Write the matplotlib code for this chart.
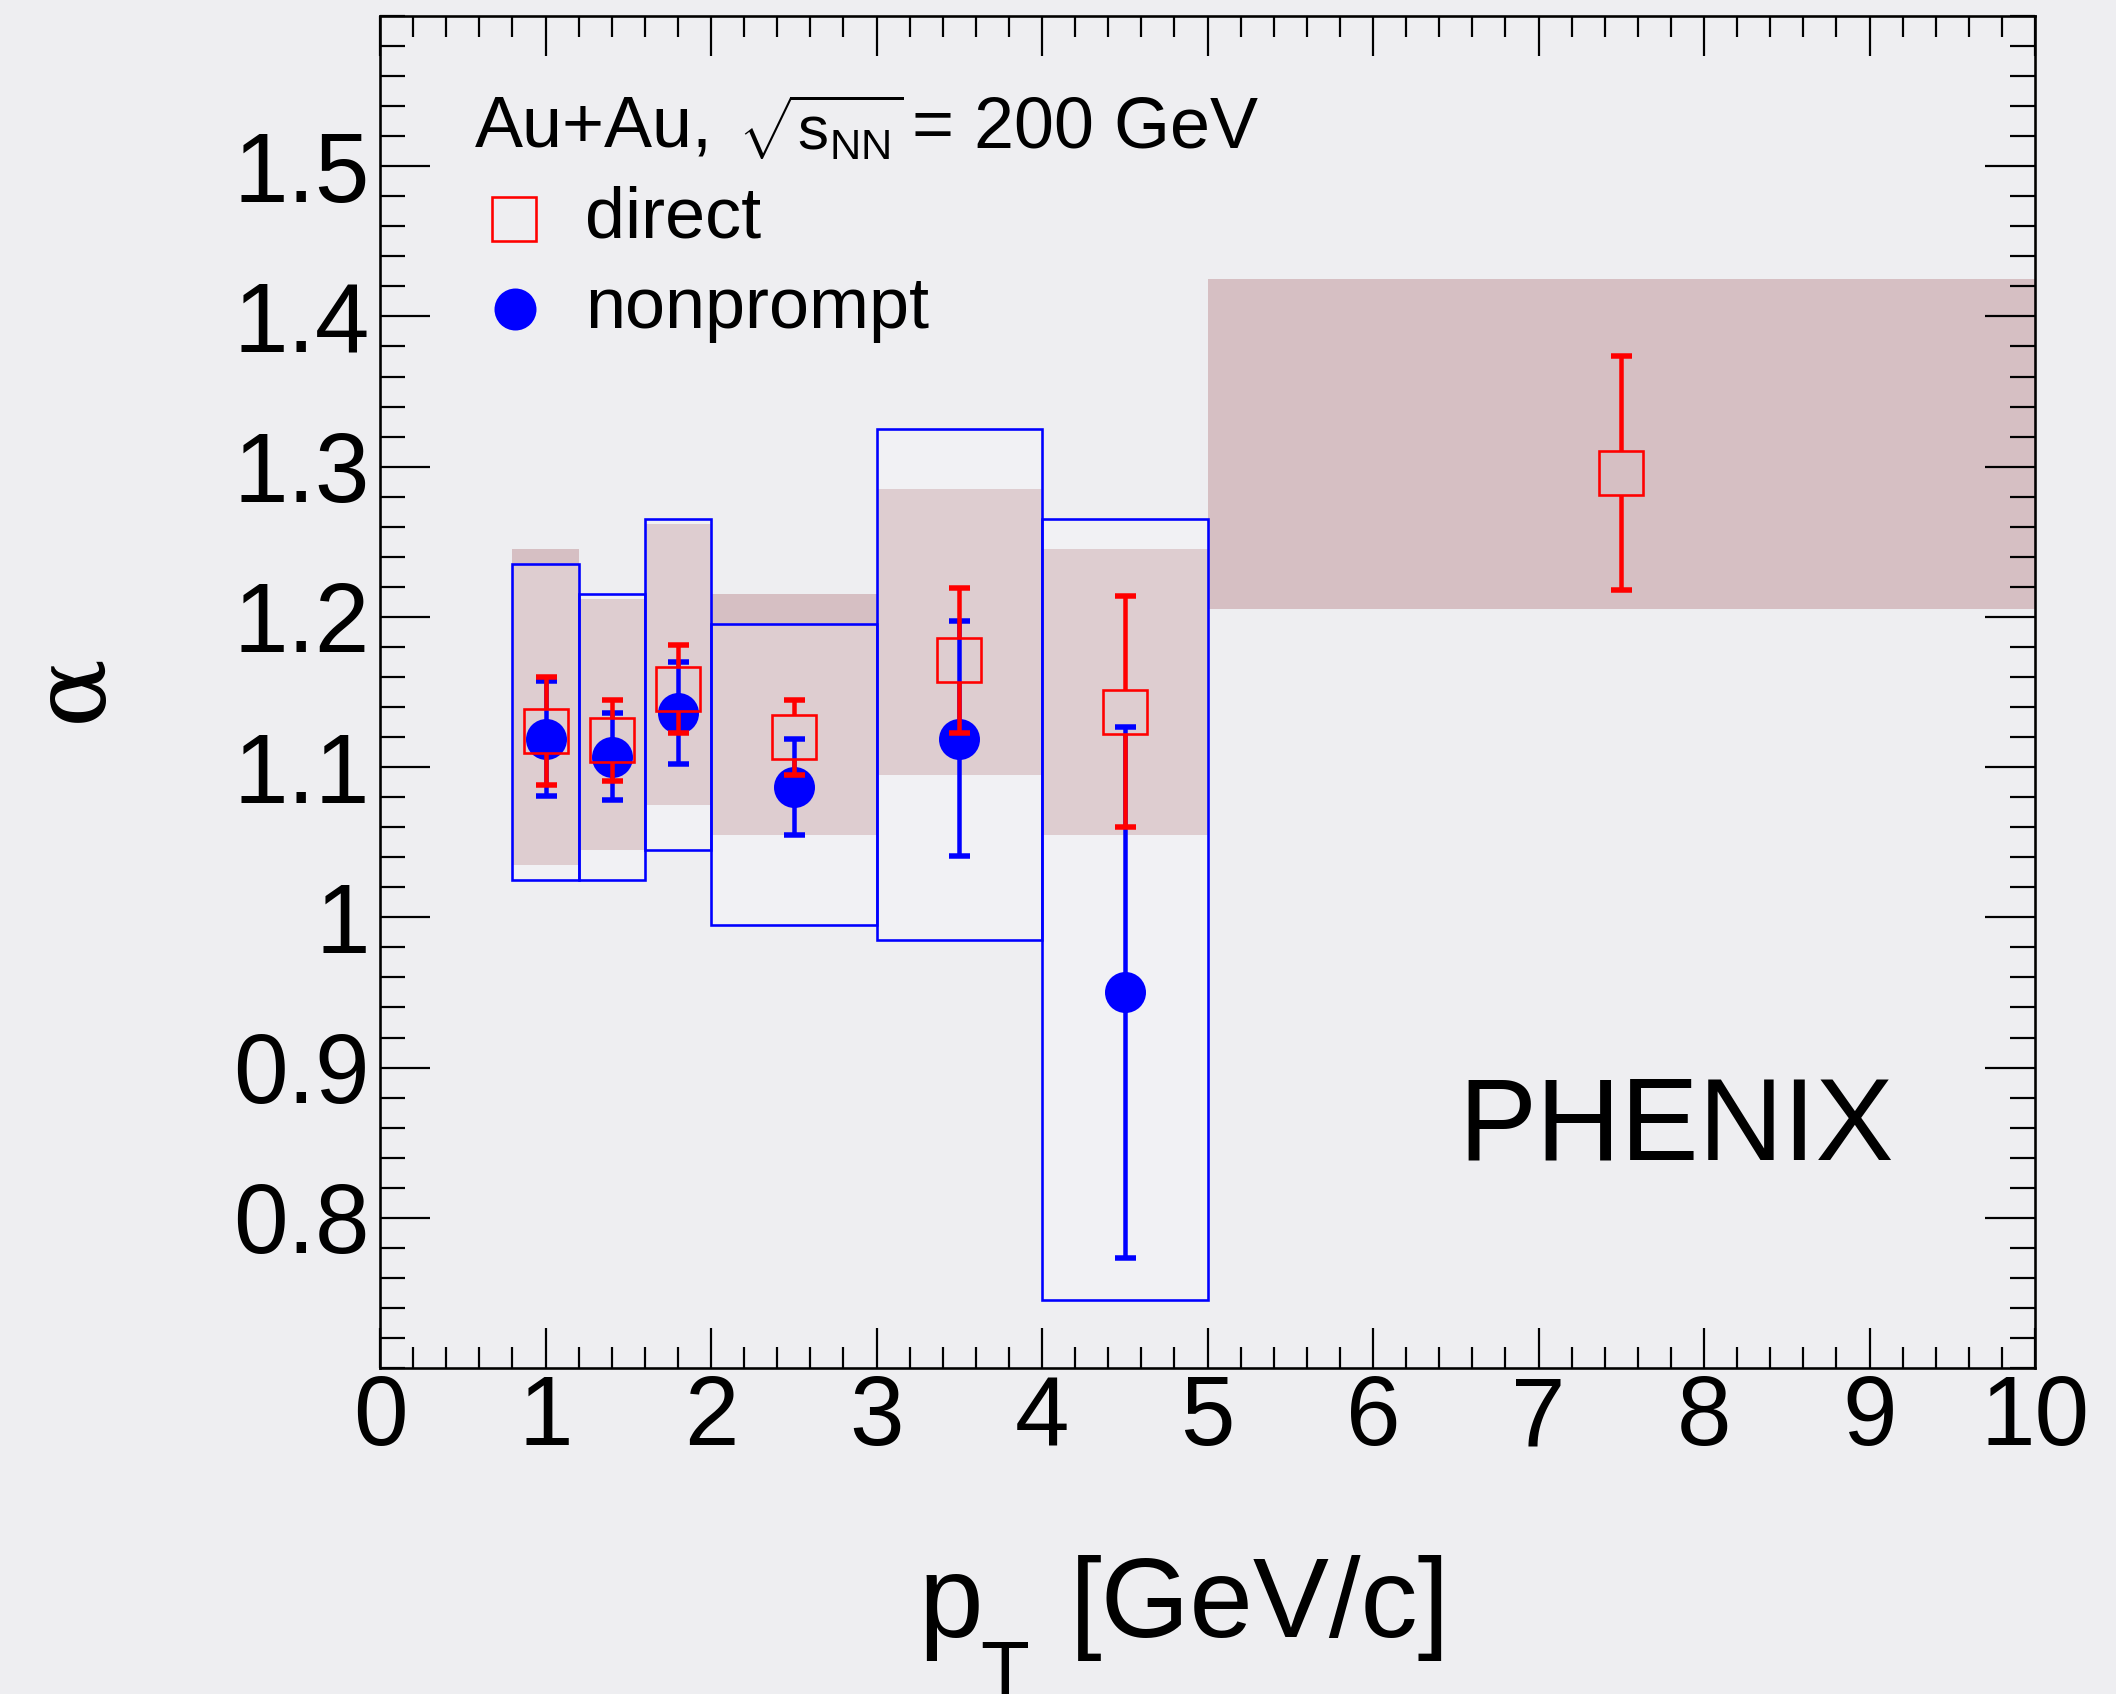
import matplotlib
matplotlib.use('Agg')
import matplotlib.pyplot as plt
from matplotlib.patches import Rectangle
from matplotlib.lines import Line2D
from matplotlib.ticker import MultipleLocator, FixedLocator, FuncFormatter

plt.rcParams['font.family'] = ['Liberation Sans', 'DejaVu Sans']
plt.rcParams['mathtext.fontset'] = 'custom'
plt.rcParams['mathtext.rm'] = 'Liberation Sans'
plt.rcParams['mathtext.it'] = 'Liberation Sans:italic'
plt.rcParams['mathtext.bf'] = 'Liberation Sans:bold'

# ---------------- data ----------------
# direct
pt_direct = [1.0, 1.4, 1.8, 2.5, 3.5, 4.5, 7.5]
alpha_direct = [1.124, 1.118, 1.152, 1.120, 1.171, 1.137, 1.296]
stat_direct = [0.036, 0.027, 0.029, 0.025, 0.048, 0.077, 0.078]
sysbin_direct_lo = [0.8, 1.2, 1.6, 2.0, 3.0, 4.0, 5.0]
sysbin_direct_hi = [1.2, 1.6, 2.0, 3.0, 4.0, 5.0, 10.0]
sys_direct_low = [1.035, 1.045, 1.075, 1.055, 1.095, 1.055, 1.205]
sys_direct_high = [1.245, 1.212, 1.262, 1.215, 1.285, 1.245, 1.425]

# nonprompt
pt_nonprompt = [1.0, 1.4, 1.8, 2.5, 3.5, 4.5]
alpha_nonprompt = [1.119, 1.107, 1.136, 1.087, 1.119, 0.950]
stat_nonprompt = [0.038, 0.029, 0.034, 0.032, 0.078, 0.177]
sysbin_np_lo = [0.8, 1.2, 1.6, 2.0, 3.0, 4.0]
sysbin_np_hi = [1.2, 1.6, 2.0, 3.0, 4.0, 5.0]
sys_np_low = [1.025, 1.025, 1.045, 0.995, 0.985, 0.745]
sys_np_high = [1.235, 1.215, 1.265, 1.195, 1.325, 1.265]

x_ticks = [0, 1, 2, 3, 4, 5, 6, 7, 8, 9, 10]
y_ticks = [0.8, 0.9, 1.0, 1.1, 1.2, 1.3, 1.4, 1.5]

# ---------------- figure ----------------
DPI = 72
W, H = 2116, 1694
BG = '#eeeef1'
fig = plt.figure(figsize=(W / DPI, H / DPI), dpi=DPI, facecolor=BG)
ax = fig.add_axes([380 / W, 1 - 1368 / H, (2035 - 380) / W, (1368 - 16) / H])
ax.set_facecolor(BG)
ax.set_xlim(0, 10)
ax.set_ylim(0.7, 1.6)

RED = '#ff0000'
BLUE = '#0000ff'
SHADE = '#d6bfc3'

# direct systematic shading
for lo, hi, yl, yh in zip(sysbin_direct_lo, sysbin_direct_hi, sys_direct_low, sys_direct_high):
    ax.add_patch(Rectangle((lo, yl), hi - lo, yh - yl, facecolor=SHADE,
                           edgecolor='none', zorder=1))

# nonprompt systematic boxes
for lo, hi, yl, yh in zip(sysbin_np_lo, sysbin_np_hi, sys_np_low, sys_np_high):
    ax.add_patch(Rectangle((lo, yl), hi - lo, yh - yl, facecolor=(1, 1, 1, 0.22),
                           edgecolor=BLUE, linewidth=2.6, zorder=2))

# nonprompt points
ax.errorbar(pt_nonprompt, alpha_nonprompt, yerr=stat_nonprompt, fmt='none',
            ecolor=BLUE, elinewidth=4.5, capsize=10.5, capthick=5.5, zorder=3)
ax.plot(pt_nonprompt, alpha_nonprompt, 'o', color=BLUE, markersize=41,
        markeredgewidth=0, zorder=3.5)

# direct points: error bars stop at the open square's edge
SQ = 44
p0 = ax.transData.transform((0, 0))
p1 = ax.transData.transform((0, 1))
gap = (SQ / 2) / (p1[1] - p0[1]) * (DPI / 72)
ax.vlines(pt_direct, [a + gap for a in alpha_direct],
          [a + s for a, s in zip(alpha_direct, stat_direct)],
          color=RED, linewidth=4.5, zorder=4)
ax.vlines(pt_direct, [a - s for a, s in zip(alpha_direct, stat_direct)],
          [a - gap for a in alpha_direct],
          color=RED, linewidth=4.5, zorder=4)
ax.errorbar(pt_direct, alpha_direct, yerr=stat_direct, fmt='none',
            ecolor=RED, elinewidth=0, capsize=10.5, capthick=5.5, zorder=4)
ax.plot(pt_direct, alpha_direct, 's', markerfacecolor='none', markeredgecolor=RED,
        markersize=SQ, markeredgewidth=2.6, zorder=5)

# ---------------- axes styling ----------------
for sp in ax.spines.values():
    sp.set_linewidth(2.6)
    sp.set_color('black')
    sp.set_zorder(6)

ax.xaxis.set_major_locator(FixedLocator(x_ticks))
ax.xaxis.set_minor_locator(MultipleLocator(0.2))
ax.yaxis.set_major_locator(FixedLocator(y_ticks))
ax.yaxis.set_minor_locator(MultipleLocator(0.02))
ax.yaxis.set_major_formatter(FuncFormatter(lambda v, p: '%g' % round(v, 2)))
ax.xaxis.set_major_formatter(FuncFormatter(lambda v, p: '%g' % v))

ax.tick_params(axis='x', which='major', direction='in', length=40, width=2.2,
               top=True, bottom=True, labelsize=98, pad=6)
ax.tick_params(axis='x', which='minor', direction='in', length=21, width=2.2,
               top=True, bottom=True)
ax.tick_params(axis='y', which='major', direction='in', length=50, width=2.2,
               left=True, right=True, labelsize=98, pad=10)
ax.tick_params(axis='y', which='minor', direction='in', length=25, width=2.2,
               left=True, right=True)

# axis titles
fig.text(918 / W, 1 - 1637 / H, 'p', fontsize=116, ha='left', va='baseline')
fig.text(980 / W, 1 - 1697 / H, 'T', fontsize=80, ha='left', va='baseline')
fig.text(1070 / W, 1 - 1637 / H, '[GeV/c]', fontsize=114, ha='left', va='baseline')
fig.text(73 / W, 1 - 688 / H, '\u03b1', fontsize=102, rotation=90,
         ha='center', va='center', family=['DejaVu Serif', 'DejaVu Sans'])

# legend / annotations
fig.text(475 / W, 1 - 147 / H, 'Au+Au,', fontsize=72, ha='left', va='baseline')
fig.text(738 / W, 1 - 150 / H,
         r'$\sqrt{\mathregular{s}_{\mathregular{NN}}}$',
         fontsize=62, ha='left', va='baseline')
fig.text(912 / W, 1 - 147 / H, '= 200 GeV', fontsize=72, ha='left', va='baseline')
fig.add_artist(Line2D([514 / W], [1 - 219 / H], marker='s', markersize=44,
                      markerfacecolor='none', markeredgecolor=RED,
                      markeredgewidth=2.6, transform=fig.transFigure))
fig.text(585 / W, 1 - 237 / H, 'direct', fontsize=72, ha='left', va='baseline')
fig.add_artist(Line2D([515 / W], [1 - 309 / H], marker='o', markersize=42,
                      color=BLUE, markeredgewidth=0, transform=fig.transFigure))
fig.text(585 / W, 1 - 328 / H, 'nonprompt', fontsize=72, ha='left', va='baseline')

fig.text(1458 / W, 1 - 1160 / H, 'PHENIX', fontsize=117, ha='left', va='baseline')

fig.savefig('out.png', dpi=DPI, facecolor=BG)
